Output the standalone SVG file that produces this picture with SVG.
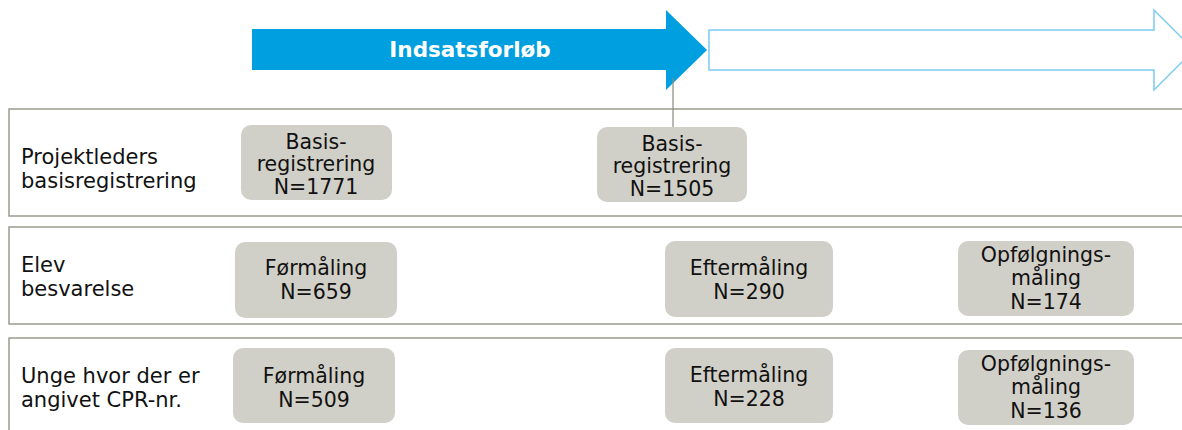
<svg xmlns="http://www.w3.org/2000/svg" width="1182" height="430" viewBox="0 0 1182 430">
<style>
.row{fill:#fff;stroke:#9c9b8e;stroke-width:1.5}
.node{fill:#d1d0c8}
.t{font-family:"DejaVu Sans",Verdana,sans-serif;font-size:20.5px;fill:#111}
.l{font-size:21px}
.c{text-anchor:middle}
.title{font-family:"DejaVu Sans",Verdana,sans-serif;font-size:21.5px;font-weight:bold;fill:#fff;text-anchor:middle}
</style>
<rect width="1182" height="430" fill="#fff"/>
<g id="arrows">
<polygon points="252,29 666,29 666,10 707,50 666,90 666,70 252,70" fill="#009fe0"/>
<text class="title" x="470" y="57">Indsatsforløb</text>
<polygon points="709,30 1154,30 1154,10 1194,50 1154,90 1154,70 709,70" fill="#fff" stroke="#7ccbf0" stroke-width="1.5"/>
</g>
<g id="rows">
<rect class="row" x="9" y="109" width="1190" height="107"/>
<rect class="row" x="9" y="227" width="1190" height="97"/>
<rect class="row" x="9" y="338" width="1190" height="110"/>
<text class="t l" x="21" y="164">Projektleders</text>
<text class="t l" x="21" y="188">basisregistrering</text>
<text class="t l" x="21" y="272">Elev</text>
<text class="t l" x="21" y="296">besvarelse</text>
<text class="t l" x="21" y="383">Unge hvor der er</text>
<text class="t l" x="21" y="407">angivet CPR-nr.</text>
</g>
<g id="connectors">
<line x1="673" y1="78" x2="673" y2="127" stroke="#8a8a80" stroke-width="1.2"/>
</g>
<g id="n1">
<rect class="node" x="241" y="125" width="151" height="75" rx="10"/>
<text class="t c" x="316" y="149">Basis-</text>
<text class="t c" x="316" y="171">registrering</text>
<text class="t c" x="316" y="194">N=1771</text>
</g>
<g id="n2">
<rect class="node" x="597" y="127" width="150" height="75" rx="10"/>
<text class="t c" x="672" y="151">Basis-</text>
<text class="t c" x="672" y="173">registrering</text>
<text class="t c" x="672" y="196">N=1505</text>
</g>
<g id="n3">
<rect class="node" x="235" y="242" width="162" height="76" rx="10"/>
<text class="t c" x="316" y="275">Førmåling</text>
<text class="t c" x="316" y="299">N=659</text>
</g>
<g id="n4">
<rect class="node" x="665" y="241" width="168" height="76" rx="10"/>
<text class="t c" x="749" y="275">Eftermåling</text>
<text class="t c" x="749" y="299">N=290</text>
</g>
<g id="n5">
<rect class="node" x="958" y="241" width="176" height="75" rx="10"/>
<text class="t c" x="1046" y="262">Opfølgnings-</text>
<text class="t c" x="1046" y="285">måling</text>
<text class="t c" x="1046" y="309">N=174</text>
</g>
<g id="n6">
<rect class="node" x="233" y="348" width="162" height="75" rx="10"/>
<text class="t c" x="314" y="383">Førmåling</text>
<text class="t c" x="314" y="407">N=509</text>
</g>
<g id="n7">
<rect class="node" x="665" y="348" width="168" height="75" rx="10"/>
<text class="t c" x="749" y="382">Eftermåling</text>
<text class="t c" x="749" y="406">N=228</text>
</g>
<g id="n8">
<rect class="node" x="958" y="350" width="176" height="75" rx="10"/>
<text class="t c" x="1046" y="371">Opfølgnings-</text>
<text class="t c" x="1046" y="394">måling</text>
<text class="t c" x="1046" y="418">N=136</text>
</g>
</svg>
